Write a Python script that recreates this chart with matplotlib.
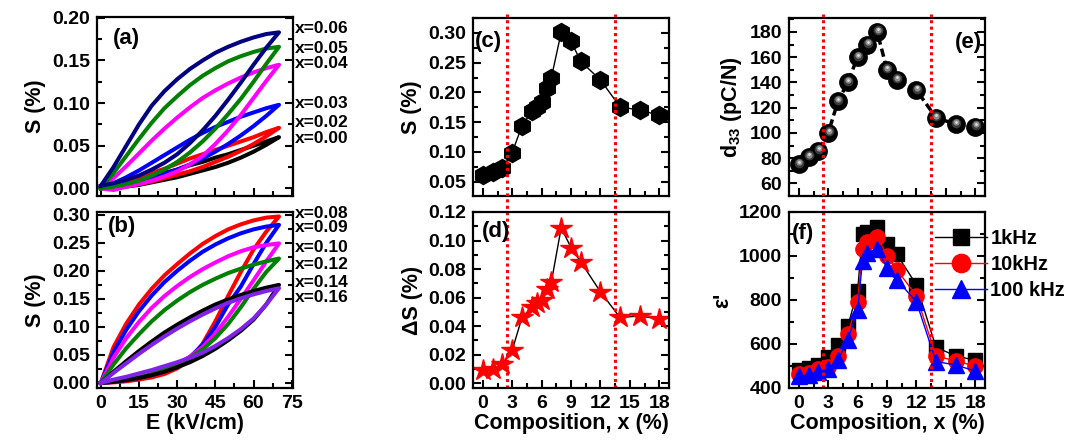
import numpy as np
import matplotlib
matplotlib.use('Agg')
import matplotlib.pyplot as plt
import matplotlib.transforms as mtransforms
from matplotlib.ticker import MultipleLocator

plt.rcParams['font.family'] = ['Liberation Sans', 'DejaVu Sans']
plt.rcParams['font.weight'] = 'bold'
plt.rcParams['axes.labelweight'] = 'bold'
plt.rcParams['mathtext.fontset'] = 'custom'
plt.rcParams['mathtext.rm'] = 'Liberation Sans:bold'
plt.rcParams['mathtext.default'] = 'rm'
plt.rcParams['axes.linewidth'] = 1.6

# ---- strain loops, E in kV/cm, S in % (lower branch = rising field, upper = falling field)
E_field = [0, 5, 10, 15, 20, 25, 30, 35, 40, 45, 50, 55, 60, 65, 70]

labels_a = ['x=0.00', 'x=0.02', 'x=0.03', 'x=0.04', 'x=0.05', 'x=0.06']
colors_a = ['black', 'red', 'blue', 'magenta', 'green', 'navy']
S_up_a = [
    [0, 0.003, 0.006, 0.010, 0.014, 0.018, 0.022, 0.027, 0.031, 0.036, 0.040, 0.045, 0.050, 0.055, 0.060],
    [0, 0.004, 0.008, 0.013, 0.018, 0.023, 0.029, 0.035, 0.040, 0.045, 0.050, 0.055, 0.060, 0.066, 0.071],
    [0, 0.006, 0.013, 0.021, 0.030, 0.039, 0.048, 0.057, 0.065, 0.072, 0.078, 0.084, 0.089, 0.094, 0.098],
    [0, 0.012, 0.026, 0.041, 0.056, 0.070, 0.083, 0.095, 0.106, 0.115, 0.123, 0.130, 0.136, 0.141, 0.145],
    [0, 0.018, 0.038, 0.058, 0.077, 0.094, 0.108, 0.121, 0.132, 0.141, 0.149, 0.155, 0.160, 0.164, 0.166],
    [0.003, 0.025, 0.050, 0.075, 0.097, 0.114, 0.128, 0.140, 0.150, 0.159, 0.166, 0.172, 0.177, 0.181, 0.183],
]
S_lo_a = [
    [0, 0.001, 0.002, 0.004, 0.007, 0.010, 0.013, 0.017, 0.021, 0.025, 0.030, 0.036, 0.043, 0.051, 0.060],
    [0, 0.001, 0.003, 0.005, 0.008, 0.012, 0.016, 0.020, 0.025, 0.031, 0.037, 0.044, 0.052, 0.061, 0.071],
    [0, 0.002, 0.005, 0.008, 0.012, 0.017, 0.022, 0.028, 0.035, 0.043, 0.052, 0.062, 0.073, 0.085, 0.098],
    [0, -0.002, 0.002, 0.005, 0.009, 0.014, 0.020, 0.028, 0.038, 0.052, 0.068, 0.086, 0.106, 0.126, 0.145],
    [0, 0.002, 0.005, 0.009, 0.015, 0.022, 0.031, 0.042, 0.055, 0.070, 0.087, 0.105, 0.125, 0.146, 0.166],
    [0.003, 0.006, 0.010, 0.015, 0.022, 0.030, 0.040, 0.053, 0.068, 0.085, 0.104, 0.124, 0.145, 0.165, 0.183],
]
label_y_a = [0.058, 0.077, 0.100, 0.147, 0.164, 0.187]

labels_b = ['x=0.08', 'x=0.09', 'x=0.10', 'x=0.12', 'x=0.14', 'x=0.16']
colors_b = ['red', 'blue', 'magenta', 'green', 'black', '#8022e8']
S_up_b = [
    [0, 0.064, 0.106, 0.140, 0.168, 0.192, 0.212, 0.231, 0.248, 0.262, 0.274, 0.283, 0.290, 0.295, 0.297],
    [0, 0.055, 0.095, 0.128, 0.156, 0.180, 0.200, 0.218, 0.234, 0.247, 0.258, 0.267, 0.274, 0.279, 0.282],
    [0, 0.045, 0.080, 0.109, 0.134, 0.155, 0.173, 0.189, 0.203, 0.215, 0.226, 0.235, 0.242, 0.246, 0.249],
    [0, 0.033, 0.062, 0.087, 0.110, 0.130, 0.147, 0.162, 0.175, 0.186, 0.196, 0.204, 0.211, 0.217, 0.222],
    [0, 0.020, 0.039, 0.057, 0.074, 0.090, 0.104, 0.117, 0.129, 0.140, 0.149, 0.157, 0.164, 0.170, 0.175],
    [0, 0.018, 0.035, 0.052, 0.068, 0.083, 0.097, 0.110, 0.122, 0.133, 0.143, 0.151, 0.158, 0.164, 0.169],
]
S_lo_b = [
    [0, 0.001, 0.003, 0.006, 0.010, 0.016, 0.026, 0.042, 0.070, 0.110, 0.155, 0.198, 0.238, 0.270, 0.297],
    [0, 0.002, 0.005, 0.009, 0.014, 0.021, 0.031, 0.046, 0.068, 0.100, 0.140, 0.172, 0.212, 0.250, 0.282],
    [0, 0.002, 0.005, 0.010, 0.016, 0.024, 0.034, 0.047, 0.064, 0.088, 0.118, 0.150, 0.183, 0.217, 0.249],
    [0, 0.003, 0.006, 0.010, 0.016, 0.023, 0.032, 0.045, 0.060, 0.080, 0.105, 0.135, 0.168, 0.198, 0.222],
    [0, 0.002, 0.005, 0.009, 0.014, 0.020, 0.028, 0.037, 0.048, 0.061, 0.076, 0.093, 0.113, 0.140, 0.175],
    [0, 0.006, 0.011, 0.017, 0.023, 0.030, 0.037, 0.045, 0.054, 0.066, 0.080, 0.096, 0.115, 0.140, 0.169],
]
label_y_b = [0.302, 0.277, 0.241, 0.211, 0.180, 0.152]

# ---- composition dependence (x in %)
x_S = [0, 1, 2, 3, 4, 5, 5.5, 6, 6.5, 7, 8, 9, 10, 12, 14, 16, 18]
S_max = [0.061, 0.067, 0.073, 0.099, 0.144, 0.168, 0.175, 0.184, 0.207, 0.225,
         0.301, 0.286, 0.252, 0.221, 0.176, 0.170, 0.162]
dS = [0.009, 0.010, 0.013, 0.023, 0.046, 0.053, 0.056, 0.058, 0.066, 0.071,
      0.109, 0.095, 0.085, 0.064, 0.046, 0.047, 0.045]

x_d33 = [0, 1, 2, 3, 4, 5, 6, 7, 8, 9, 10, 12, 14, 16, 18]
d33 = [75, 81, 86, 100, 125, 140, 160, 170, 180, 150, 142, 134, 112, 107, 105]

x_eps = [0, 1, 2, 3, 4, 5, 6, 6.5, 7, 8, 9, 10, 12, 14, 16, 18]
eps_1k = [480, 492, 505, 542, 597, 680, 843, 1100, 1108, 1131, 1054, 1008, 869, 585, 546, 526]
eps_10k = [462, 469, 485, 497, 546, 646, 792, 1034, 1065, 1088, 1000, 938, 819, 546, 523, 500]
eps_100k = [454, 459, 474, 485, 526, 619, 754, 977, 1015, 1031, 946, 892, 792, 520, 505, 477]

phase_bounds = [2.5, 13.5]

fig = plt.figure(figsize=(10.72, 4.41), dpi=100)
W, H = 1072.0, 441.0
def box(l, t, r, b):
    return [l / W, 1 - b / H, (r - l) / W, (b - t) / H]

ax_a = fig.add_axes(box(97, 17, 293, 196))
ax_b = fig.add_axes(box(97, 212, 293, 388))
ax_c = fig.add_axes(box(473, 18, 669, 196))
ax_d = fig.add_axes(box(473, 212, 669, 388))
ax_e = fig.add_axes(box(789, 18, 985, 196))
ax_f = fig.add_axes(box(789, 212, 985, 388))

def style(ax, xmaj, ymaj, labels=True):
    ax.xaxis.set_major_locator(MultipleLocator(xmaj))
    ax.xaxis.set_minor_locator(MultipleLocator(xmaj / 2))
    ax.yaxis.set_major_locator(MultipleLocator(ymaj))
    ax.yaxis.set_minor_locator(MultipleLocator(ymaj / 2))
    ax.tick_params(which='both', direction='in', right=True, top=False,
                   width=1.5, labelsize=14, pad=5)
    ax.tick_params(which='major', length=6)
    ax.tick_params(which='minor', length=3.5)
    if not labels:
        ax.tick_params(labelbottom=False)

# (a) and (b)
for ax, ups, los, cols, labs, ly in [(ax_a, S_up_a, S_lo_a, colors_a, labels_a, label_y_a),
                                     (ax_b, S_up_b, S_lo_b, colors_b, labels_b, label_y_b)]:
    E = np.array(E_field)
    for up, lo, c in zip(ups, los, cols):
        ax.plot(np.concatenate([E, E[::-1]]), np.concatenate([lo, up[::-1]]),
                color=c, lw=2.9, solid_joinstyle='round')
    trans = mtransforms.blended_transform_factory(ax.transAxes, ax.transData)
    for lab, y in zip(labs, ly):
        ax.text(1.012, y, lab, transform=trans, fontsize=12.5, va='center', ha='left')
    ax.set_xlim(-1.5, 75.5)
    ax.set_ylabel('S (%)', fontsize=15.5)

ax_a.set_ylim(-0.009, 0.201)
ax_b.set_ylim(-0.009, 0.305)
style(ax_a, 15, 0.05, labels=False)
style(ax_b, 15, 0.05)
ax_b.set_xlabel('E (kV/cm)', fontsize=15.5, labelpad=1)
ax_a.text(0.08, 0.88, '(a)', transform=ax_a.transAxes, fontsize=16, va='center')
ax_b.text(0.055, 0.92, '(b)', transform=ax_b.transAxes, fontsize=16, va='center')

# (c) S vs composition
ax_c.plot(x_S, S_max, color='black', lw=1)
ax_c.plot(x_S, S_max, 'h', color='black', ms=13, mec='black')
ax_c.set_ylim(0.026, 0.325)
ax_c.set_ylabel('S (%)', fontsize=15.5)
ax_c.text(0.01, 0.87, '(c)', transform=ax_c.transAxes, fontsize=16, va='center')

# (d) delta S
ax_d.plot(x_S, dS, color='black', lw=1)
ax_d.plot(x_S, dS, '*', color='red', ms=16, mec='red')
ax_d.set_ylim(-0.0035, 0.12)
ax_d.set_ylabel('ΔS (%)', fontsize=15.5)
ax_d.set_xlabel('Composition, x (%)', fontsize=15.5, labelpad=1)
ax_d.text(0.045, 0.89, '(d)', transform=ax_d.transAxes, fontsize=16, va='center')

# (e) d33 with shaded spheres
ax_e.plot(x_d33, d33, color='black', lw=2.5, ls=(0, (2.4, 1.2)))
ax_e.plot(x_d33, d33, 'o', color='black', ms=12.5)
for ms, c, dy in [(7, '#3a3a3a', 1.0), (4.5, '#8c8c8c', 1.5), (2, '#dcdcdc', 1.8)]:
    off = ax_e.transData + mtransforms.ScaledTranslation(0.3 / 72, dy / 72, fig.dpi_scale_trans)
    ax_e.plot(x_d33, d33, 'o', color=c, ms=ms, mec='none', transform=off)
ax_e.set_ylim(50, 191)
ax_e.set_ylabel(r'd$_{33}$ (pC/N)', fontsize=15.5)
ax_e.text(0.985, 0.86, '(e)', transform=ax_e.transAxes, fontsize=16, va='center', ha='right')

# (f) permittivity
ax_f.plot(x_eps, eps_1k, '-s', color='black', lw=1, ms=10, label='1kHz')
ax_f.plot(x_eps, eps_10k, '-o', color='red', lw=1, ms=11, label='10kHz')
ax_f.plot(x_eps, eps_100k, '-^', color='blue', lw=1, ms=11, label='100 kHz')
ax_f.set_ylim(400, 1200)
ax_f.set_ylabel("ε'", fontsize=15.5)
ax_f.set_xlabel('Composition, x (%)', fontsize=15.5, labelpad=1)
ax_f.text(0.015, 0.875, '(f)', transform=ax_f.transAxes, fontsize=16, va='center')
ax_f.legend(loc='upper left', bbox_to_anchor=(0.745, 0.905), frameon=False, fontsize=14.5,
            handlelength=2.6, handletextpad=0.15, labelspacing=0.35, borderaxespad=0,
            borderpad=0, markerscale=1.2)

# dotted phase-boundary lines run through both stacked panels
for ax, top in [(ax_c, 1.02), (ax_d, 1.1), (ax_e, 1.02), (ax_f, 1.1)]:
    ax.set_xlim(-1, 19)
    for xb in phase_bounds:
        ax.axvline(xb, ymin=0, ymax=top, color='red', lw=2.2, ls=(0, (1, 1.1)), clip_on=False)
style(ax_c, 3, 0.05, labels=False)
style(ax_d, 3, 0.02)
style(ax_e, 3, 20, labels=False)
style(ax_f, 3, 200)

fig.savefig('out.png', dpi=100)
